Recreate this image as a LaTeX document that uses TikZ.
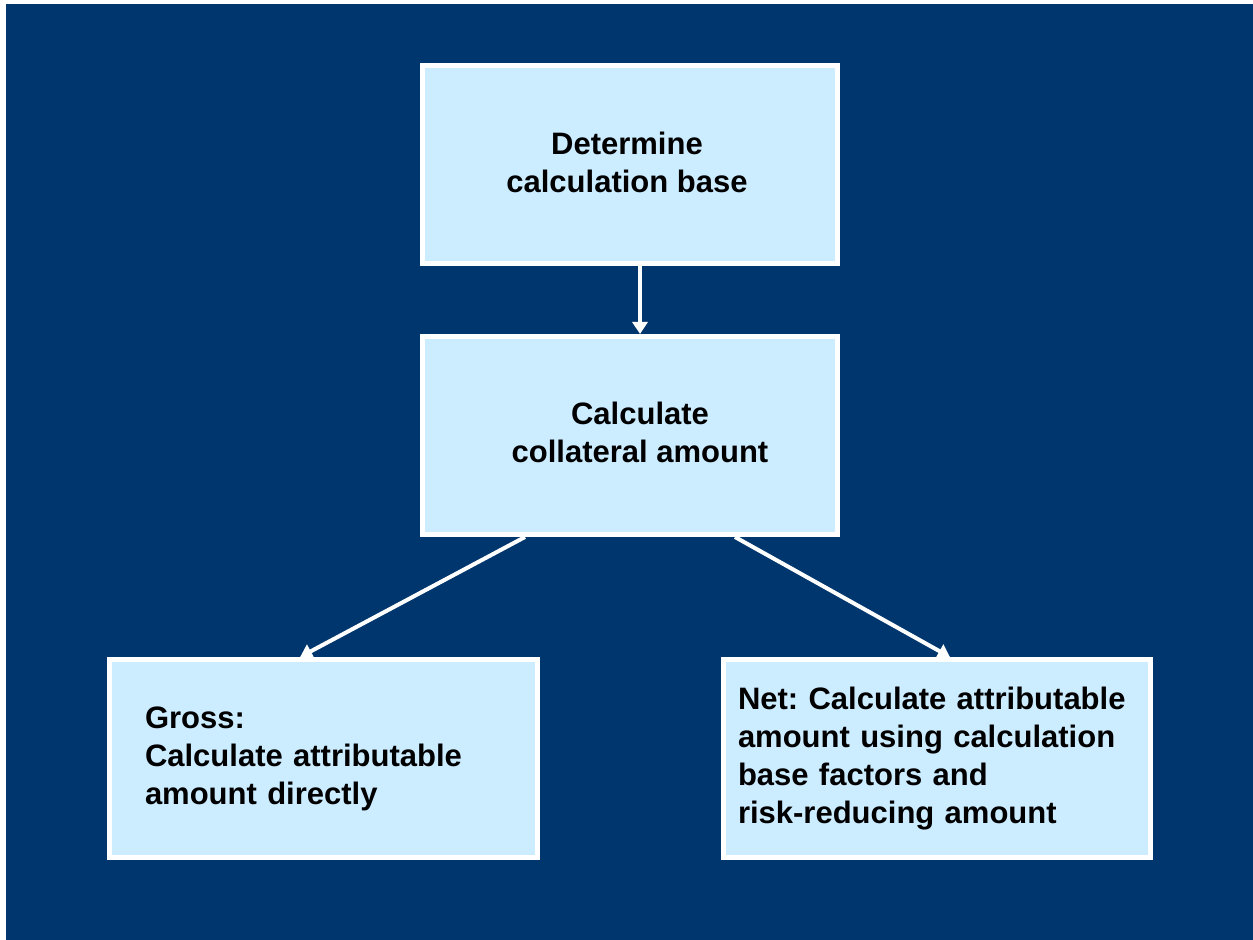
\documentclass[tikz,border=0pt]{standalone}
\usepackage{fontspec}
\setmainfont{Liberation Sans}
\frenchspacing
\usetikzlibrary{arrows.meta,calc}
\definecolor{navy}{RGB}{0,54,110}
\definecolor{paleblue}{RGB}{204,236,255}

\begin{document}
\begin{tikzpicture}[x=.5pt,y=-.5pt,
  boxfont/.style={font=\fontsize{15.5}{19}\selectfont\bfseries},
  box/.style={draw=white,line width=2.5pt,fill=paleblue,minimum height=99pt,boxfont},
  link/.style={draw=white,line width=2pt,-{Triangle[width=7.5pt,length=6pt]}}]
\useasboundingbox(0,0)rectangle(1253,940);
\fill[white](0,0)rectangle(1253,940);
\fill[navy](6,4)rectangle(1253,940);
\node[box,minimum width=207.5pt](base)at(630,165){};
\node[boxfont,align=center](basetext)at(627,162){Determine\\calculation base};
\node[box,minimum width=207.5pt](coll)at(630,435.5){};
\node[boxfont,align=center](colltext)at(640,432){Calculate\\collateral amount};
\node[box,minimum width=214pt,text width=178.5pt,align=left](gross)at(323.5,758.5){Gross:\\Calculate attributable\\amount directly};
\node[box,minimum width=213.5pt,text width=199pt,align=left](net)at(937,758.5){Net: Calculate attributable\\amount using calculation\\base factors and\\risk-reducing amount};
% arrows
\draw[link]($(base.south)+(10,0)$)--($(coll.north)+(10,0)$);
\draw[link]($(coll.south west)!.25!(coll.south east)$)--($(gross.north west)!.446!(gross.north east)$);
\draw[link]($(coll.south west)!.75!(coll.south east)$)--($(net.north west)!.53!(net.north east)$);
\end{tikzpicture}
\end{document}
